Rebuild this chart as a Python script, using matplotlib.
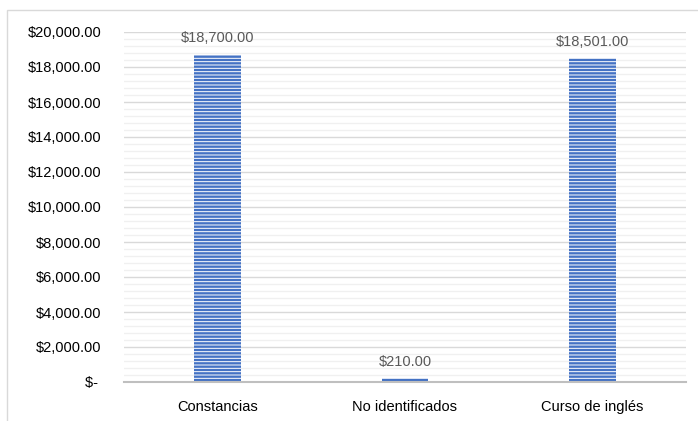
import matplotlib
matplotlib.use("Agg")
import matplotlib.pyplot as plt
from matplotlib.patches import Rectangle
from matplotlib.ticker import MultipleLocator, FuncFormatter

categories = ["Constancias", "No identificados", "Curso de inglés"]
values = [18700, 210, 18501]
y_ticks = [0, 2000, 4000, 6000, 8000, 10000, 12000, 14000, 16000, 18000, 20000]

plt.rcParams['font.family'] = ['Liberation Sans', 'DejaVu Sans']
plt.rcParams['hatch.linewidth'] = 0.7

W, H = 698, 421
fig = plt.figure(figsize=(W / 100, H / 100), dpi=100)
ax = fig.add_axes([124 / W, (H - 382) / H, (686 - 124) / W, (382 - 32) / H])

# chart border
fig.patches.append(Rectangle((7 / W, -0.5), 2, (H - 10) / H + 0.5, transform=fig.transFigure,
                             fill=False, edgecolor='#D9D9D9', linewidth=1.0))

x = list(range(len(categories)))
bars = ax.bar(x, values, width=0.25, color='#4472C4', edgecolor='white', linewidth=0,
              hatch='-----', zorder=3)

def money(v):
    return "$" + format(v, ",.2f")

for xi, v in zip(x, values):
    ax.annotate(money(v), (xi, v), xytext=(0, 7), textcoords='offset points',
                ha='center', va='bottom', fontsize=10.5, color='#595959')

ax.set_xlim(-0.5, 2.5)
ax.set_ylim(0, 20000)
ax.set_yticks(y_ticks)
ax.yaxis.set_minor_locator(MultipleLocator(400))
ax.yaxis.set_major_formatter(FuncFormatter(lambda v, p: "$- " if v == 0 else money(v)))
ax.set_xticks(x)
ax.set_xticklabels(categories)
ax.tick_params(axis='y', which='both', length=0, pad=16, labelsize=10.5, labelcolor='#000000')
ax.tick_params(axis='x', length=0, pad=13, labelsize=10.5, labelcolor='#000000')

ax.grid(axis='y', which='major', color='#D9D9D9', linewidth=1.0, zorder=0)
ax.grid(axis='y', which='minor', color='#F0F0F0', linewidth=1.0, zorder=0)
for s in ['left', 'right', 'top']:
    ax.spines[s].set_visible(False)
ax.spines['bottom'].set_color('#BFBFBF')
ax.spines['bottom'].set_linewidth(1.5)
ax.spines['bottom'].set_zorder(4)

fig.savefig("out.png", dpi=100)
